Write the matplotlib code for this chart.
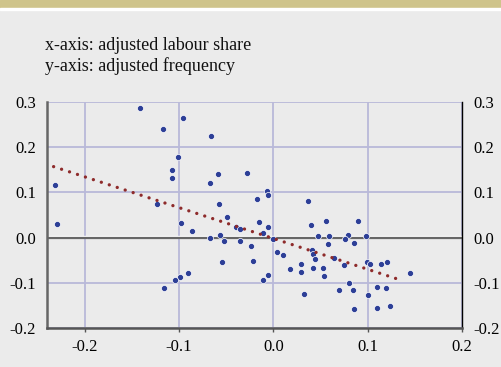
import matplotlib
matplotlib.use("Agg")
import matplotlib.pyplot as plt
from matplotlib.patches import Rectangle

# ── data ─────────────────────────────────────────────────────────────────
labour_share = [
    -0.1416, -0.1171, -0.0955, -0.1016, -0.1080, -0.1080, -0.2318, -0.1230,
    -0.0658, -0.0584, -0.0276, -0.0676, -0.0071, -0.0057, -0.0174, 0.0364,
    -0.0573, -0.2293, -0.0977, -0.0987, -0.1045, -0.1161, -0.0906, -0.0867,
    -0.0488, -0.0676, -0.0563, -0.0528, -0.0400, -0.0354, -0.0156, -0.0060,
    -0.0110, -0.0354, -0.0241, 0.0000, 0.0038, 0.0102, 0.0400, 0.0474,
    0.0410, 0.0425, 0.0438, 0.0420, 0.0297, 0.0293, 0.0176, -0.0541,
    -0.0212, -0.0057, -0.0114, 0.0325, 0.0555, 0.0895, 0.0590, 0.0792,
    0.0757, 0.0987, 0.0580, 0.0852, 0.0643, 0.0527, 0.0754, 0.0537,
    0.0998, 0.1022, 0.1136, 0.1203, 0.1444, 0.0803, 0.0693, 0.0849,
    0.1104, 0.1192, 0.1001, 0.0852, 0.1100, 0.1238,
]
frequency = [
    0.2862, 0.2410, 0.2650, 0.1790, 0.1500, 0.1310, 0.1160, 0.0746,
    0.2255, 0.1400, 0.1430, 0.1217, 0.1026, 0.0952, 0.0856, 0.0805,
    0.0746, 0.0304, 0.0333, -0.0882, -0.0934, -0.1125, -0.0786, 0.0142,
    0.0451, -0.0006, 0.0068, -0.0072, 0.0245, 0.0200, 0.0355, 0.0238,
    0.0105, -0.0065, -0.0182, -0.0030, -0.0315, -0.0374, 0.0275, 0.0039,
    -0.0278, -0.0355, -0.0477, -0.0668, -0.0580, -0.0757, -0.0698, -0.0529,
    -0.0507, -0.0823, -0.0927, -0.1243, 0.0377, 0.0377, 0.0032, 0.0068,
    -0.0028, 0.0045, -0.0145, -0.0123, -0.0462, -0.0668, -0.0617, -0.0860,
    -0.0536, -0.0595, -0.0595, -0.0529, -0.0786, -0.1007, -0.1170, -0.1170,
    -0.1103, -0.1125, -0.1265, -0.1575, -0.1552, -0.1515,
]
trend_x = [-0.233, 0.138]
trend_y = [0.157, -0.096]

x_ticks = [-0.2, -0.1, 0.0, 0.1, 0.2]
y_ticks = [-0.2, -0.1, 0.0, 0.1, 0.2, 0.3]
notes = ["x-axis: adjusted labour share", "y-axis: adjusted frequency"]

# ── style ────────────────────────────────────────────────────────────────
plt.rcParams["font.family"] = ["Liberation Serif", "DejaVu Serif"]
plt.rcParams["axes.unicode_minus"] = False

BG = "#ebebeb"
GRID = "#b9b9d9"
BLUE = "#2d3f97"
RED = "#8e2b2b"

fig = plt.figure(figsize=(5.01, 3.67), dpi=100, facecolor=BG)
fig.patches.append(Rectangle((0, 1 - 8 / 367), 1, 8 / 367,
                             transform=fig.transFigure, color="#cfc48b"))
fig.patches.append(Rectangle((0, 1 - 10 / 367), 1, 2 / 367,
                             transform=fig.transFigure, color="white"))

for i, line in enumerate(notes):
    fig.text(0.089, 1 - (46 + 20 * i) / 367, line, fontsize=13,
             va="center", ha="left", color="#111111")

ax = fig.add_axes([47 / 501, 1 - 328 / 367, 415 / 501, 226 / 367])
ax.set_facecolor(BG)
ax.set_xlim(-0.24, 0.2)
ax.set_ylim(-0.2, 0.3)
ax.set_xticks(x_ticks)
ax.set_yticks(y_ticks)
ax.set_xticklabels([f"{v:.1f}" for v in x_ticks])
ax.set_yticklabels([f"{v:.1f}" for v in y_ticks])
ax.grid(True, color=GRID, lw=1.3)
ax.set_axisbelow(True)

ax.axhline(0.0035, color="white", lw=1.0, zorder=1.5)
ax.axhline(0, color="#666666", lw=1.6, zorder=1.6)

ax.spines["top"].set_visible(False)
ax.spines["left"].set_color("#666666")
ax.spines["left"].set_linewidth(1.8)
ax.spines["bottom"].set_color("#555555")
ax.spines["bottom"].set_linewidth(1.8)
ax.spines["right"].set_color("black")
ax.spines["right"].set_linewidth(1.0)

ax.tick_params(axis="x", length=3, width=1, color="#555555",
               labelsize=12, pad=5)
ax.tick_params(axis="y", length=0, labelsize=12, pad=8,
               labelleft=True, labelright=True)

ax.plot(labour_share, frequency, "o", color=BLUE, ms=4.4,
        mec="white", mew=0.5, zorder=3)
ax.plot(trend_x, trend_y, color=RED, lw=2.4,
        linestyle=(0, (0.01, 2.5)), dash_capstyle="round", zorder=4)

fig.savefig("out.png", dpi=100, facecolor=BG)
